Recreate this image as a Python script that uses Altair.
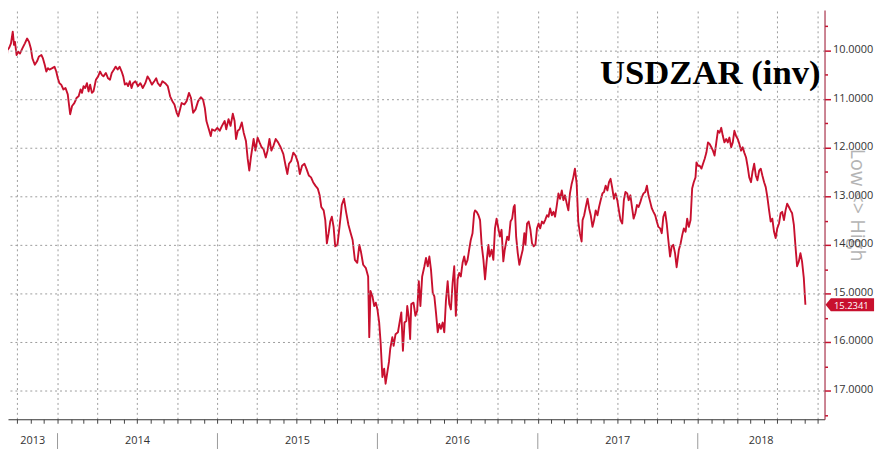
import altair as alt
import pandas as pd

# ---------------- data ----------------
title_text = "USDZAR (inv)"
axis_note = "Low <> High"
last_label = "15.2341"
year_labels = ["2013", "2014", "2015", "2016", "2017", "2018"]
y_ticks = [9.5, 10, 10.5, 11, 11.5, 12, 12.5, 13, 13.5, 14, 14.5, 15, 15.5, 16, 16.5, 17, 17.5]

# time as decimal year
year_frac = [
    2013.682, 2013.686, 2013.698, 2013.709, 2013.720, 2013.728, 2013.734, 2013.744, 2013.754, 2013.765,
    2013.781, 2013.796, 2013.810, 2013.822, 2013.833, 2013.843, 2013.858, 2013.872, 2013.884, 2013.899,
    2013.909, 2013.920, 2013.930, 2013.940, 2013.950, 2013.967, 2013.981, 2013.992, 2014.002, 2014.012,
    2014.023, 2014.037, 2014.050, 2014.064, 2014.079, 2014.091, 2014.105, 2014.120, 2014.132, 2014.144,
    2014.153, 2014.163, 2014.173, 2014.184, 2014.194, 2014.204, 2014.215, 2014.225, 2014.240, 2014.254,
    2014.266, 2014.277, 2014.287, 2014.302, 2014.316, 2014.328, 2014.339, 2014.353, 2014.363, 2014.376,
    2014.388, 2014.401, 2014.411, 2014.421, 2014.432, 2014.441, 2014.452, 2014.463, 2014.472, 2014.487,
    2014.503, 2014.518, 2014.533, 2014.549, 2014.563, 2014.576, 2014.590, 2014.605, 2014.617, 2014.627,
    2014.642, 2014.656, 2014.673, 2014.689,
    2014.704, 2014.718, 2014.731, 2014.745, 2014.755, 2014.766, 2014.776, 2014.793, 2014.807, 2014.822,
    2014.834, 2014.848, 2014.863, 2014.879, 2014.896, 2014.910, 2014.921, 2014.931, 2014.946, 2014.958,
    2014.966, 2014.983, 2014.999, 2015.014, 2015.028, 2015.045, 2015.055, 2015.069, 2015.082, 2015.096,
    2015.107, 2015.116, 2015.127, 2015.138, 2015.152, 2015.164, 2015.178, 2015.189, 2015.199, 2015.209,
    2015.226, 2015.237, 2015.251, 2015.263, 2015.276, 2015.288, 2015.302, 2015.313, 2015.325, 2015.337,
    2015.350, 2015.364, 2015.379, 2015.395, 2015.412, 2015.426, 2015.437, 2015.447, 2015.461, 2015.474,
    2015.488, 2015.503, 2015.515, 2015.529, 2015.544, 2015.556, 2015.571, 2015.585, 2015.598, 2015.612,
    2015.627, 2015.639, 2015.649, 2015.664, 2015.674, 2015.684, 2015.695, 2015.705, 2015.715, 2015.726,
    2015.736, 2015.750, 2015.763, 2015.773,
    2015.777, 2015.791, 2015.804, 2015.819, 2015.833, 2015.845, 2015.859, 2015.874, 2015.887, 2015.897,
    2015.911, 2015.928, 2015.942, 2015.949, 2015.957, 2015.969, 2015.980, 2015.990, 2016.000, 2016.011,
    2016.020, 2016.031, 2016.042, 2016.051, 2016.062, 2016.072, 2016.080, 2016.093, 2016.101, 2016.113,
    2016.128, 2016.138, 2016.149, 2016.159, 2016.169, 2016.180, 2016.186, 2016.196, 2016.204, 2016.211,
    2016.225, 2016.237, 2016.248, 2016.258, 2016.268, 2016.279, 2016.293, 2016.303, 2016.314, 2016.324,
    2016.334, 2016.345, 2016.355, 2016.365, 2016.376, 2016.386, 2016.396, 2016.407, 2016.417, 2016.427,
    2016.438, 2016.448, 2016.458, 2016.469, 2016.479, 2016.489, 2016.500, 2016.510, 2016.520, 2016.531,
    2016.541, 2016.551, 2016.562, 2016.572, 2016.582, 2016.593, 2016.603, 2016.609, 2016.619, 2016.630,
    2016.640, 2016.650, 2016.661, 2016.671, 2016.681, 2016.692, 2016.700, 2016.712, 2016.723, 2016.733,
    2016.743, 2016.754, 2016.764, 2016.774, 2016.785, 2016.794,
    2016.809, 2016.819, 2016.830, 2016.840, 2016.850, 2016.856, 2016.865, 2016.875, 2016.885, 2016.896,
    2016.906, 2016.916, 2016.923, 2016.933, 2016.943, 2016.954, 2016.964, 2016.974, 2016.985, 2016.995,
    2017.005, 2017.015, 2017.026, 2017.036, 2017.046, 2017.057, 2017.067, 2017.077, 2017.088, 2017.098,
    2017.108, 2017.119, 2017.129, 2017.139, 2017.150, 2017.160, 2017.170, 2017.181, 2017.191, 2017.201,
    2017.212, 2017.222, 2017.232, 2017.243, 2017.253, 2017.263, 2017.274, 2017.280, 2017.290, 2017.300,
    2017.311, 2017.321, 2017.331, 2017.342, 2017.352, 2017.362, 2017.373, 2017.383, 2017.393, 2017.404,
    2017.414, 2017.424, 2017.435, 2017.445, 2017.455, 2017.466, 2017.476, 2017.486, 2017.497, 2017.507,
    2017.517, 2017.528, 2017.538, 2017.548, 2017.559, 2017.568, 2017.579, 2017.590, 2017.599, 2017.610,
    2017.620, 2017.630, 2017.641, 2017.651, 2017.661, 2017.672, 2017.682, 2017.692, 2017.703, 2017.713,
    2017.723, 2017.734, 2017.744, 2017.754, 2017.765, 2017.775, 2017.785, 2017.796, 2017.806, 2017.816,
    2017.827, 2017.837, 2017.847, 2017.858, 2017.868,
    2017.882, 2017.893, 2017.903, 2017.913, 2017.924, 2017.934, 2017.944, 2017.955, 2017.965, 2017.975,
    2017.986, 2017.992, 2018.002, 2018.012, 2018.023, 2018.033, 2018.043, 2018.054, 2018.064, 2018.074,
    2018.085, 2018.095, 2018.105, 2018.116, 2018.126, 2018.136, 2018.147, 2018.157, 2018.167, 2018.178,
    2018.188, 2018.198, 2018.209, 2018.219, 2018.229, 2018.240, 2018.250, 2018.260, 2018.271, 2018.281,
    2018.291, 2018.302, 2018.311, 2018.322, 2018.333, 2018.342, 2018.353, 2018.363, 2018.373, 2018.384,
    2018.394, 2018.404, 2018.415, 2018.425, 2018.435, 2018.446, 2018.456, 2018.466, 2018.477, 2018.487,
    2018.497, 2018.508, 2018.518, 2018.528, 2018.539, 2018.549, 2018.559, 2018.570, 2018.580, 2018.590,
    2018.601, 2018.611, 2018.621, 2018.632, 2018.642, 2018.652, 2018.663, 2018.673,
]

usdzar = [
    10.22, 9.99, 9.94, 9.85, 9.61, 9.88, 9.82, 10.09, 10.02, 10.06,
    9.95, 9.85, 9.75, 9.82, 9.95, 10.16, 10.29, 10.22, 10.12, 10.09,
    10.16, 10.29, 10.43, 10.36, 10.39, 10.36, 10.33, 10.43, 10.57, 10.67,
    10.70, 10.80, 10.77, 10.90, 11.31, 11.14, 11.08, 10.97, 10.94, 10.80,
    10.87, 10.73, 10.77, 10.67, 10.84, 10.70, 10.87, 10.84, 10.60, 10.53,
    10.43, 10.50, 10.53, 10.46, 10.57, 10.60, 10.46, 10.39, 10.33, 10.39,
    10.33, 10.43, 10.53, 10.70, 10.67, 10.73, 10.63, 10.77, 10.67, 10.63,
    10.73, 10.67, 10.77, 10.67, 10.53, 10.60, 10.70, 10.63, 10.57, 10.67,
    10.73, 10.63, 10.67, 10.73,
    10.94, 11.04, 11.11, 11.28, 11.35, 11.21, 11.08, 11.11, 11.04, 10.87,
    10.97, 11.28, 11.21, 11.04, 10.96, 11.01, 11.18, 11.45, 11.62, 11.76,
    11.62, 11.65, 11.59, 11.65, 11.55, 11.45, 11.62, 11.41, 11.55, 11.30,
    11.45, 11.82, 11.65, 11.62, 11.48, 11.69, 11.86, 12.23, 12.47, 12.20,
    11.82, 12.06, 11.79, 11.89, 11.99, 12.03, 12.20, 12.06, 11.82, 12.06,
    11.96, 11.82, 11.89, 11.99, 12.13, 12.37, 12.54, 12.33, 12.27, 12.10,
    12.16, 12.30, 12.54, 12.37, 12.33, 12.43, 12.57, 12.61, 12.71, 12.78,
    12.84, 12.98, 13.22, 13.29, 13.49, 13.97, 13.76, 13.52, 13.42, 13.63,
    14.03, 14.00, 13.63, 13.32,
    13.18, 13.05, 13.32, 13.59, 13.76, 13.90, 14.31, 14.37, 14.00, 14.14,
    14.41, 14.48, 14.65, 15.90, 14.95, 15.06, 15.26, 15.19, 15.33, 15.60,
    16.01, 16.72, 16.55, 16.86, 16.62, 16.41, 16.14, 15.90, 16.08, 15.84,
    15.80, 15.60, 15.39, 16.18, 15.60, 15.57, 15.26, 15.50, 15.94, 15.22,
    15.19, 15.46, 15.36, 14.75, 15.26, 14.65, 14.44, 14.27, 14.44, 14.24,
    14.51, 14.99, 15.06, 15.39, 15.80, 15.63, 15.73, 15.60, 15.80, 15.16,
    14.75, 15.22, 15.33, 14.78, 14.44, 15.46, 14.71, 14.58, 14.65, 14.37,
    14.24, 14.41, 14.31, 14.10, 13.90, 13.76, 13.35, 13.29, 13.32, 13.39,
    13.49, 14.00, 14.31, 14.71, 14.34, 14.00, 14.24, 14.10, 14.31, 13.66,
    13.46, 13.66, 13.83, 13.69, 14.34, 14.10,
    13.83, 13.90, 13.52, 13.46, 13.22, 13.18, 13.83, 14.17, 14.41, 14.24,
    14.10, 13.76, 14.00, 13.56, 13.52, 13.69, 13.97, 14.03, 14.00, 13.66,
    13.56, 13.66, 13.52, 13.56, 13.49, 13.39, 13.42, 13.25, 13.39, 13.32,
    13.42, 13.18, 12.94, 13.05, 12.88, 13.08, 12.98, 13.15, 13.29, 12.94,
    12.74, 12.61, 12.43, 12.74, 13.52, 13.76, 13.93, 13.49, 13.39, 13.22,
    13.05, 13.25, 13.39, 13.63, 13.49, 13.29, 13.39, 13.22, 13.08, 12.94,
    12.91, 12.78, 12.88, 12.71, 12.64, 12.84, 13.05, 12.94, 13.08, 13.29,
    13.49, 13.56, 13.08, 12.91, 12.94, 13.08, 12.98, 13.25, 13.46, 13.35,
    13.18, 13.22, 13.12, 13.01, 12.94, 12.91, 12.78, 12.98, 13.12, 13.25,
    13.32, 13.39, 13.52, 13.63, 13.66, 13.76, 13.42, 13.32, 13.56, 13.90,
    14.24, 14.03, 14.00, 14.17, 14.46,
    14.10, 13.97, 13.80, 13.66, 13.73, 13.46, 13.63, 13.49, 12.84, 12.71,
    12.61, 12.30, 12.37, 12.37, 12.43, 12.33, 12.23, 12.10, 11.89, 11.92,
    11.99, 12.06, 12.16, 11.89, 11.65, 11.69, 11.59, 11.76, 11.89, 11.82,
    11.89, 11.79, 11.99, 11.89, 11.65, 11.76, 11.82, 11.92, 12.06, 11.99,
    12.10, 12.20, 12.37, 12.61, 12.71, 12.50, 12.33, 12.57, 12.67, 12.47,
    12.43, 12.57, 12.71, 12.81, 13.01, 13.29, 13.52, 13.46, 13.73, 13.86,
    13.66, 13.56, 13.35, 13.32, 13.49, 13.29, 13.15, 13.22, 13.29, 13.35,
    13.59, 14.03, 14.44, 14.34, 14.17, 14.34, 14.68, 15.2341,
]

# visible window
x_start_frac = 2013.6904
x_end_frac = 2018.7926
y_lo, y_hi = 9.1633, 17.5918

# ---------------- helpers ----------------
def frac_to_ts(d):
    y = int(d)
    s = pd.Timestamp(year=y, month=1, day=1)
    e = pd.Timestamp(year=y + 1, month=1, day=1)
    return (s + (e - s) * (d - y)).round("s")


def to_dt(ts):
    return alt.DateTime(year=ts.year, month=ts.month, date=ts.day,
                        hours=ts.hour, minutes=ts.minute)


n = min(len(year_frac), len(usdzar))
df = pd.DataFrame({"date": [frac_to_ts(d) for d in year_frac[:n]], "value": usdzar[:n]})

x0, x1 = frac_to_ts(x_start_frac), frac_to_ts(x_end_frac)

months = pd.date_range("2013-10-01", "2018-10-01", freq="MS")
month_vals = [to_dt(m) for m in months]

rows = []
for lab in year_labels:
    y = int(lab)
    s = max(pd.Timestamp(year=y, month=1, day=1), x0)
    e = min(pd.Timestamp(year=y + 1, month=1, day=1), x1)
    rows.append({"date": s + (e - s) / 2, "label": lab})
year_df = pd.DataFrame(rows)
sep_df = pd.DataFrame({"date": [pd.Timestamp(year=int(l), month=1, day=1) for l in year_labels[1:]]})

last_df = pd.DataFrame({"date": [df["date"].iloc[-1]], "value": [df["value"].iloc[-1]], "label": [last_label]})

# ---------------- style ----------------
W, H = 824, 413
LINE = "#c8102e"
RAXIS = "#a8324a"
GRID = "#9c9c9c"
FONT = "Open Sans"

x_scale = alt.Scale(domain=[to_dt(x0), to_dt(x1)])
y_scale = alt.Scale(domain=[y_lo, y_hi], reverse=True, nice=False, zero=False)

x_axis = alt.Axis(
    values=month_vals, labels=False, title=None,
    tickSize=4, tickColor="#444", domainColor="#333", domainWidth=1,
    grid=True, gridColor=GRID, gridDash=[2, 3], gridWidth=1,
    gridOpacity={"condition": {"test": "month(datum.value) % 3 === 0", "value": 1}, "value": 0},
)
y_axis = alt.Axis(
    orient="right", values=y_ticks, title=None,
    labelExpr="datum.value % 1 === 0 ? format(datum.value, '.4f') : ''",
    labelOverlap=False, labelFlush=False,
    labelFont=FONT, labelFontSize=11, labelColor="#333", labelPadding=2, labelOffset=-1,
    tickColor=LINE, tickWidth=1.5,
    tickSize={"condition": {"test": "datum.value % 1 === 0", "value": 6}, "value": 3},
    domainColor=RAXIS, domainWidth=1.2,
    grid=True, gridColor=GRID, gridDash=[2, 3], gridWidth=1,
    gridOpacity={"condition": {"test": "datum.value % 1 === 0", "value": 1}, "value": 0},
    zindex=1,
)

X = lambda: alt.X("date:T", scale=x_scale, axis=x_axis)
Y = lambda: alt.Y("value:Q", scale=y_scale, axis=y_axis)

line = alt.Chart(df).mark_line(color=LINE, strokeWidth=1.9, clip=True, strokeJoin="round").encode(x=X(), y=Y())

seps = alt.Chart(sep_df).mark_rule(color="#9a9a9a", strokeWidth=1).encode(
    x=X(), y=alt.value(H + 14), y2=alt.value(H + 30),
)

years = alt.Chart(year_df).mark_text(font=FONT, fontSize=11, color="#333", baseline="middle", align="center").encode(
    x=X(), y=alt.value(H + 22), text="label:N",
)

title = alt.Chart(pd.DataFrame({"t": [title_text]})).mark_text(
    font="Liberation Serif", fontWeight="bold", fontSize=35, color="#000",
    align="right", baseline="alphabetic",
).encode(x=alt.value(820), y=alt.value(75), text="t:N")

note = alt.Chart(pd.DataFrame({"t": [axis_note]})).mark_text(
    font=FONT, fontSize=20, color="#b4b4b4", angle=90, align="center", baseline="middle",
).encode(x=alt.value(W + 33), y=alt.value(197), text="t:N")

tag_shape = "M -1 0 L -0.78 -0.27 L 1 -0.27 L 1 0.27 L -0.78 0.27 Z"
tag = alt.Chart(last_df).mark_point(
    shape=tag_shape, size=2401, filled=True, fill=LINE, opacity=1, strokeWidth=0,
).encode(x=alt.value(W + 25.5), y=Y())

tag_text = alt.Chart(last_df).mark_text(
    font=FONT, fontSize=9.5, color="white", align="center", baseline="middle", dy=1.5,
).encode(x=alt.value(W + 27), y=Y(), text="label:N")

chart = alt.layer(line, note, seps, years, title, tag, tag_text).properties(
    width=W, height=H,
    autosize=alt.AutoSizeParams(type="none"),
    padding={"left": 0, "top": 0, "right": 58, "bottom": 31},
    background="white",
).configure_view(stroke=None)

chart.save("out.html", embed_options={"renderer": "svg", "actions": False})
